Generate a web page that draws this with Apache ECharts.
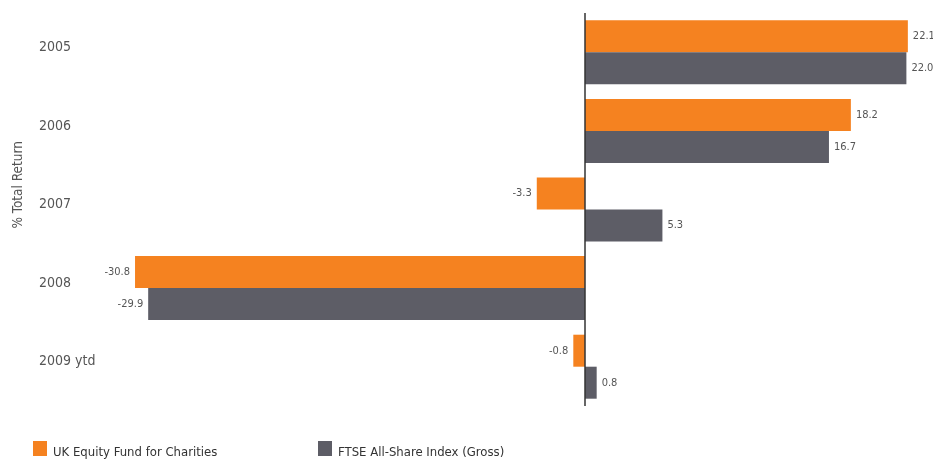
<!DOCTYPE html>
<html><head><meta charset="utf-8">
<script src="https://cdn.jsdelivr.net/npm/echarts@6/dist/echarts.min.js"></script>
<style>html,body{margin:0;padding:0;background:#fff}#c{width:933px;height:459px}</style>
</head><body><div id="c"></div>
<script>
var categories = ['2005', '2006', '2007', '2008', '2009 ytd'];
var fundName = 'UK Equity Fund for Charities';
var indexName = 'FTSE All-Share Index (Gross)';
var fundValues = [22.1, 18.2, -3.3, -30.8, -0.8];
var indexValues = [22.0, 16.7, 5.3, -29.9, 0.8];
var axisTitle = '% Total Return';

var FONT = '"DejaVu Sans Condensed", "Liberation Sans Narrow", "Noto Sans", sans-serif';
function toItems(arr) {
  return arr.map(function (v) {
    return { value: v, label: { position: v < 0 ? 'left' : 'right' } };
  });
}
var labelStyle = { show: true, fontSize: 11, color: '#555', distance: 5, fontFamily: FONT,
  formatter: function (p) { return p.value.toFixed(1); } };
var legendText = { fontSize: 13, color: '#333', fontFamily: FONT,
  rich: { t: { fontSize: 13, color: '#333', fontFamily: FONT, padding: [8, 0, 0, 1] } } };
var legendFmt = function (name) { return '{t|' + name + '}'; };

var chart = echarts.init(document.getElementById('c'), null, { renderer: 'canvas' });
chart.setOption({
  animation: false,
  textStyle: { fontFamily: FONT },
  grid: { left: 117.5, right: 12, top: 13, bottom: 53 },
  xAxis: { type: 'value', min: -32, max: 23, show: false, splitLine: { show: false } },
  yAxis: {
    type: 'category', data: categories, inverse: true,
    axisLine: { show: false }, axisTick: { show: false },
    axisLabel: { align: 'left', verticalAlign: 'bottom', lineHeight: 10, margin: 78.5,
      fontSize: 14, color: '#555', fontFamily: FONT }
  },
  legend: [
    { data: [fundName], left: 33, top: 441, padding: 0, icon: 'rect', itemWidth: 14, itemHeight: 15, itemGap: 0,
      formatter: legendFmt, textStyle: legendText },
    { data: [indexName], left: 318, top: 441, padding: 0, icon: 'rect', itemWidth: 14, itemHeight: 15, itemGap: 0,
      formatter: legendFmt, textStyle: legendText }
  ],
  graphic: [{
    type: 'text', left: 11, top: 141, rotation: Math.PI / 2,
    style: { text: axisTitle, fill: '#555', font: '13.5px ' + FONT }
  }],
  series: [
    { name: fundName, type: 'bar', data: toItems(fundValues), barWidth: 32, barGap: '0%',
      itemStyle: { color: '#F58220' }, label: labelStyle,
      markLine: { silent: true, symbol: 'none', label: { show: false },
        lineStyle: { color: '#333', width: 1.5, type: 'solid' }, data: [{ xAxis: 0 }] } },
    { name: indexName, type: 'bar', data: toItems(indexValues), barWidth: 32, barGap: '0%',
      itemStyle: { color: '#5D5D66' }, label: labelStyle }
  ]
});
</script></body></html>
